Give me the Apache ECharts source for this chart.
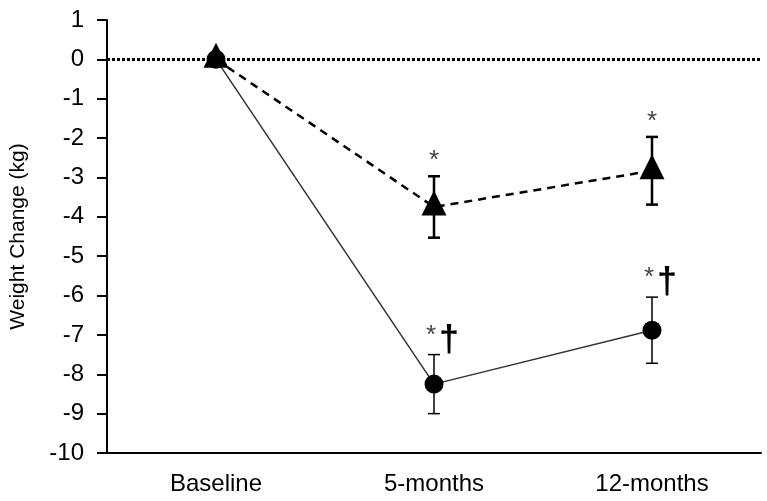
<!DOCTYPE html>
<html>
<head>
<meta charset="utf-8">
<script src="https://cdn.jsdelivr.net/npm/echarts@6/dist/echarts.min.js"></script>
<style>
  html, body { margin: 0; padding: 0; background: #fff; }
  #chart { width: 767px; height: 501px; }
</style>
</head>
<body>
<div id="chart"></div>
<script>
// 数据
const categories = ['Baseline', '5-months', '12-months'];
const triangleMean = [0, -3.75, -2.83];
const triangleErr = [0, 0.78, 0.86];
const circleMean = [0, -8.25, -6.88];
const circleErr = [0, 0.75, 0.84];
const triangleStars = ['', '*', '*'];
const circleStars = ['', '*', '*'];
const circleDaggers = ['', '†', '†'];

const fontFamily = '"Liberation Sans", Arial, sans-serif';

const chart = echarts.init(document.getElementById('chart'));

// 误差线
function errorBar(lineWidth) {
    return function (params, api) {
        const i = api.value(0);
        const lo = api.coord([i, api.value(1)]);
        const hi = api.coord([i, api.value(2)]);
        if (Math.abs(lo[1] - hi[1]) < 1) return null;
        const half = 6;
        const style = { stroke: '#000', lineWidth: lineWidth };
        return {
            type: 'group',
            children: [
                { type: 'line', shape: { x1: lo[0], y1: lo[1], x2: hi[0], y2: hi[1] }, style: style },
                { type: 'line', shape: { x1: lo[0] - half, y1: lo[1], x2: lo[0] + half, y2: lo[1] }, style: style },
                { type: 'line', shape: { x1: hi[0] - half, y1: hi[1], x2: hi[0] + half, y2: hi[1] }, style: style }
            ]
        };
    };
}

// 显著性标记
function marks(stars, daggers, starGap) {
    return function (params, api) {
        const idx = params.dataIndex;
        const p = api.coord([api.value(0), api.value(1)]);
        const children = [];
        if (stars[idx]) {
            children.push({
                type: 'text',
                style: {
                    text: stars[idx], x: p[0] - (daggers ? 3 : 0), y: p[1] - starGap,
                    fill: '#444', fontSize: 26, fontFamily: fontFamily,
                    align: 'center', verticalAlign: 'middle'
                }
            });
        }
        if (daggers && daggers[idx]) {
            children.push({
                type: 'text',
                style: {
                    text: daggers[idx], x: p[0] + 15, y: p[1] - 14,
                    fill: '#000', fontSize: 36, fontWeight: 'bold', fontFamily: fontFamily,
                    align: 'center', verticalAlign: 'middle'
                }
            });
        }
        return { type: 'group', children: children };
    };
}

const triErrData = triangleMean.map((m, i) => [i, m - triangleErr[i], m + triangleErr[i]]);
const cirErrData = circleMean.map((m, i) => [i, m - circleErr[i], m + circleErr[i]]);
const triMarkData = triangleMean.map((m, i) => [i, m + triangleErr[i]]);
const cirMarkData = circleMean.map((m, i) => [i, m + circleErr[i]]);

chart.setOption({
    animation: false,
    grid: { left: 107, right: 6, top: 20, bottom: 48 },
    xAxis: {
        type: 'category',
        data: categories,
        axisLine: { onZero: false, lineStyle: { color: '#000', width: 2 } },
        axisTick: { alignWithLabel: true, length: 5, lineStyle: { color: '#000', width: 1 } },
        axisLabel: { color: '#000', fontSize: 24, fontFamily: fontFamily, margin: 19 },
        splitLine: { show: false }
    },
    yAxis: {
        type: 'value',
        min: -10,
        max: 1,
        interval: 1,
        name: 'Weight Change (kg)',
        nameLocation: 'middle',
        nameGap: 78,
        nameTextStyle: { color: '#000', fontSize: 21, fontFamily: fontFamily },
        axisLine: { show: true, lineStyle: { color: '#000', width: 2 } },
        axisTick: { show: true, length: 10, lineStyle: { color: '#000', width: 2 } },
        axisLabel: { color: '#000', fontSize: 24, fontFamily: fontFamily, margin: 23 },
        splitLine: { show: false }
    },
    series: [
        {
            type: 'line',
            data: circleMean,
            symbol: 'circle',
            symbolSize: 19,
            itemStyle: { color: '#000' },
            lineStyle: { color: '#333', width: 1.5 },
            z: 3,
            markLine: {
                silent: true,
                symbol: 'none',
                label: { show: false },
                lineStyle: { color: '#000', width: 3, type: [3, 2] },
                data: [{ yAxis: 0 }]
            }
        },
        {
            type: 'custom',
            data: cirErrData,
            renderItem: errorBar(1.5),
            z: 2
        },
        {
            type: 'line',
            data: triangleMean,
            symbol: 'triangle',
            symbolSize: [25, 25],
            symbolOffset: [0, -4],
            itemStyle: { color: '#000' },
            lineStyle: { color: '#000', width: 2.5, type: [8, 6] },
            z: 5
        },
        {
            type: 'custom',
            data: triErrData,
            renderItem: errorBar(2.5),
            z: 4
        },
        {
            type: 'custom',
            data: triMarkData,
            renderItem: marks(triangleStars, null, 15),
            z: 6
        },
        {
            type: 'custom',
            data: cirMarkData,
            renderItem: marks(circleStars, circleDaggers, 19),
            z: 6
        }
    ]
});
</script>
</body>
</html>
